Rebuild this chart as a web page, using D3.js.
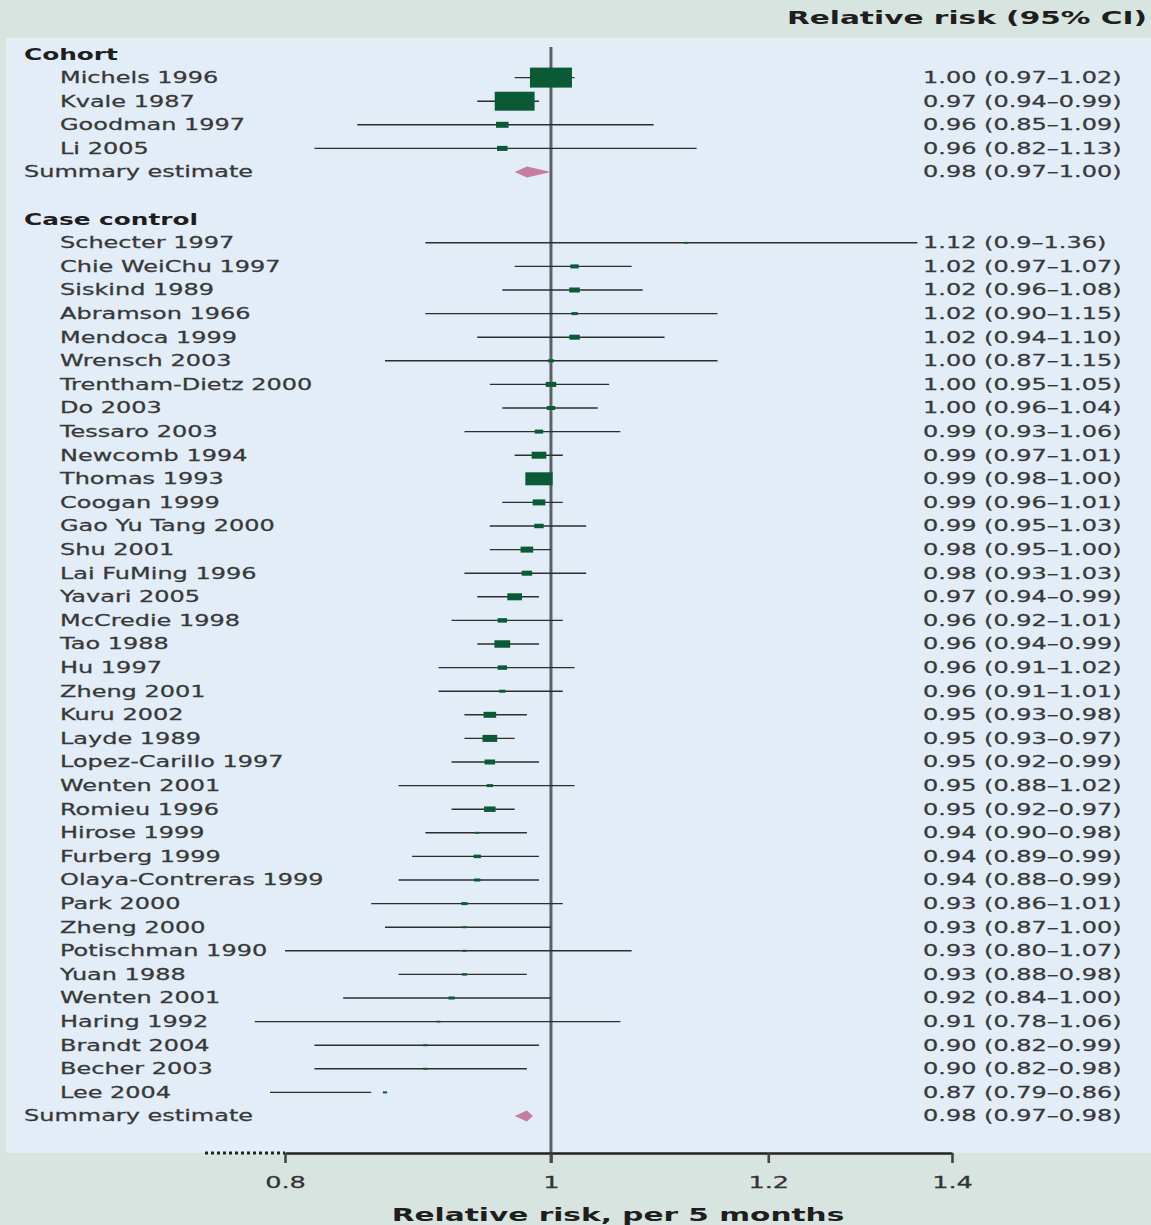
<!DOCTYPE html>
<html>
<head>
<meta charset="utf-8">
<script src="https://cdn.jsdelivr.net/npm/d3@7/dist/d3.min.js"></script>
<style>
  html, body { margin: 0; padding: 0; background: #d8e4e0; }
  svg { display: block; }
</style>
</head>
<body>
<svg id="chart" width="1151" height="1225"></svg>
<script>
// ---- Data ---------------------------------------------------------------
const groupTitles = ["Cohort", "Case control"];

const cohortNames  = ["Michels 1996", "Kvale 1987", "Goodman 1997", "Li 2005"];
const cohortRR     = ["1.00", "0.97", "0.96", "0.96"];
const cohortLo     = ["0.97", "0.94", "0.85", "0.82"];
const cohortHi     = ["1.02", "0.99", "1.09", "1.13"];
const cohortWeight = [20, 18, 1.8, 1.25];
const cohortSummary = ["0.98", "0.97", "1.00"];

const caseNames = [
  "Schecter 1997", "Chie WeiChu 1997", "Siskind 1989", "Abramson 1966", "Mendoca 1999",
  "Wrensch 2003", "Trentham-Dietz 2000", "Do 2003", "Tessaro 2003", "Newcomb 1994",
  "Thomas 1993", "Coogan 1999", "Gao Yu Tang 2000", "Shu 2001", "Lai FuMing 1996",
  "Yavari 2005", "McCredie 1998", "Tao 1988", "Hu 1997", "Zheng 2001",
  "Kuru 2002", "Layde 1989", "Lopez-Carillo 1997", "Wenten 2001", "Romieu 1996",
  "Hirose 1999", "Furberg 1999", "Olaya-Contreras 1999", "Park 2000", "Zheng 2000",
  "Potischman 1990", "Yuan 1988", "Wenten 2001", "Haring 1992", "Brandt 2004",
  "Becher 2003", "Lee 2004"
];
const caseRR = [
  "1.12", "1.02", "1.02", "1.02", "1.02",
  "1.00", "1.00", "1.00", "0.99", "0.99",
  "0.99", "0.99", "0.99", "0.98", "0.98",
  "0.97", "0.96", "0.96", "0.96", "0.96",
  "0.95", "0.95", "0.95", "0.95", "0.95",
  "0.94", "0.94", "0.94", "0.93", "0.93",
  "0.93", "0.93", "0.92", "0.91", "0.90",
  "0.90", "0.87"
];
const caseLo = [
  "0.9", "0.97", "0.96", "0.90", "0.94",
  "0.87", "0.95", "0.96", "0.93", "0.97",
  "0.98", "0.96", "0.95", "0.95", "0.93",
  "0.94", "0.92", "0.94", "0.91", "0.91",
  "0.93", "0.93", "0.92", "0.88", "0.92",
  "0.90", "0.89", "0.88", "0.86", "0.87",
  "0.80", "0.88", "0.84", "0.78", "0.82",
  "0.82", "0.79"
];
const caseHi = [
  "1.36", "1.07", "1.08", "1.15", "1.10",
  "1.15", "1.05", "1.04", "1.06", "1.01",
  "1.00", "1.01", "1.03", "1.00", "1.03",
  "0.99", "1.01", "0.99", "1.02", "1.01",
  "0.98", "0.97", "0.99", "1.02", "0.97",
  "0.98", "0.99", "0.99", "1.01", "1.00",
  "1.07", "0.98", "1.00", "1.06", "0.99",
  "0.98", "0.86"
];
const caseWeight = [
  0.05, 0.8, 1.25, 0.45, 1.25,
  0.45, 1.25, 0.8, 0.8, 2.45,
  8.45, 1.8, 1.0, 1.8, 1.25,
  2.45, 1.0, 2.8, 1.0, 0.45,
  1.8, 2.45, 1.25, 0.45, 1.5,
  0.2, 0.6, 0.45, 0.45, 0.2,
  0.2, 0.3, 0.45, 0.1, 0.2,
  0.2, 0.2
];
const caseSummary = ["0.98", "0.97", "0.98"];

const axisTicks = [0.8, 1, 1.2, 1.4];
const headerTitle = "Relative risk (95% CI)";
const axisTitle = "Relative risk, per 5 months";

// ---- Row table ------------------------------------------------------------
const rows = [];
function addGroup(title, names, rr, lo, hi, wt, summary) {
  rows.push({ kind: "header", label: title });
  names.forEach((n, i) => rows.push({
    kind: "study", label: n, rr: rr[i], lo: lo[i], hi: hi[i], weight: wt[i]
  }));
  rows.push({ kind: "summary", label: "Summary estimate",
              rr: summary[0], lo: summary[1], hi: summary[2] });
}
addGroup(groupTitles[0], cohortNames, cohortRR, cohortLo, cohortHi, cohortWeight, cohortSummary);
rows.push({ kind: "blank" });
addGroup(groupTitles[1], caseNames, caseRR, caseLo, caseHi, caseWeight, caseSummary);

// ---- Layout ------------------------------------------------------------------
const W = 1151, H = 1225;
const SX = 1.6;               // horizontal stretch of the typeface
const svg = d3.select("#chart");

const x = d3.scaleLog().domain([0.8, 1.4]).range([285, 952]);
const y = d3.scalePoint().domain(d3.range(rows.length)).range([54, 1116]);
const boxH = d3.scaleSqrt().domain([0, 20]).range([0, 20]);

// Backgrounds
svg.append("rect").attr("x", 0).attr("y", 0).attr("width", W).attr("height", H)
  .attr("fill", "#d8e4e0");
svg.append("rect").attr("x", 6).attr("y", 38).attr("width", W - 6).attr("height", 1153 - 38)
  .attr("fill", "#e2edf7");

function stretched(sel, tx, ty) {
  return sel.attr("transform", `translate(${tx},${ty}) scale(${SX},1)`);
}

// Column header
stretched(svg.append("text"), 1147, 24)
  .attr("text-anchor", "end")
  .attr("font-family", "DejaVu Sans, sans-serif")
  .attr("font-weight", "bold")
  .attr("font-size", 18.5)
  .attr("fill", "#1e1e1e")
  .text(headerTitle);

// Reference line at RR = 1
svg.append("line")
  .attr("x1", x(1)).attr("x2", x(1))
  .attr("y1", 47).attr("y2", 1163)
  .attr("stroke", "#5e6163").attr("stroke-width", 3);

// Rows
const rowG = svg.append("g").selectAll("g")
  .data(rows.map((r, i) => ({ ...r, i })))
  .join("g");

function bodyText(sel) {
  return sel
    .attr("dy", "0.36em")
    .attr("font-family", "DejaVu Sans, sans-serif")
    .attr("font-size", 15)
    .attr("fill", "#383838")
    .attr("stroke", "#383838")
    .attr("stroke-width", 0.25);
}

rowG.each(function (d) {
  const g = d3.select(this);
  const cy = y(d.i);
  if (d.kind === "blank") return;

  if (d.kind === "header") {
    stretched(g.append("text"), 24, cy)
      .attr("dy", "0.36em")
      .attr("font-family", "DejaVu Sans, sans-serif")
      .attr("font-weight", "bold")
      .attr("font-size", 15.5)
      .attr("fill", "#1e1e1e")
      .text(d.label);
    return;
  }

  bodyText(stretched(g.append("text"), d.kind === "study" ? 60 : 24, cy))
    .text(d.label);

  bodyText(stretched(g.append("text"), 923, cy))
    .text(`${d.rr} (${d.lo}\u2013${d.hi})`);

  const rr = +d.rr, lo = +d.lo, hi = +d.hi;

  if (d.kind === "study") {
    g.append("line")
      .attr("x1", x(lo)).attr("x2", x(hi))
      .attr("y1", cy).attr("y2", cy)
      .attr("stroke", "#2e2e2e").attr("stroke-width", 1.4);
    const h = Math.max(1.8, boxH(d.weight));
    const w = Math.max(3.5, h * 2.1);
    g.append("rect")
      .attr("x", x(rr) - w / 2).attr("y", cy - h / 2)
      .attr("width", w).attr("height", h)
      .attr("fill", "#0b5a36");
  } else {
    const hh = 5.5;
    const left = Math.min(x(lo), x(rr) - 6), right = Math.max(x(hi), x(rr) + 6);
    g.append("path")
      .attr("d", `M${left},${cy} L${x(rr)},${cy - hh} L${right},${cy} L${x(rr)},${cy + hh} Z`)
      .attr("fill", "#c97ba0");
  }
});

// X axis
const axisY = 1153;
svg.append("line")
  .attr("x1", 205).attr("x2", x(0.8))
  .attr("y1", axisY).attr("y2", axisY)
  .attr("stroke", "#222").attr("stroke-width", 3)
  .attr("stroke-dasharray", "3,3");

const axisG = svg.append("g")
  .attr("transform", `translate(0,${axisY})`)
  .call(d3.axisBottom(x)
    .tickValues(axisTicks)
    .tickFormat(d3.format("~g"))
    .tickSize(10)
    .tickSizeOuter(0)
    .tickPadding(14));
axisG.select(".domain").attr("stroke", "#222").attr("stroke-width", 2.6);
axisG.selectAll(".tick line").attr("stroke", "#444").attr("stroke-width", 2.6);
axisG.selectAll(".tick text")
  .attr("font-family", "DejaVu Sans, sans-serif")
  .attr("font-size", 16)
  .attr("fill", "#333")
  .attr("stroke", "#333")
  .attr("stroke-width", 0.25)
  .attr("transform", `scale(${SX},1)`);

stretched(svg.append("text"), 618, 1221)
  .attr("text-anchor", "middle")
  .attr("font-family", "DejaVu Sans, sans-serif")
  .attr("font-weight", "bold")
  .attr("font-size", 18.5)
  .attr("fill", "#1e1e1e")
  .text(axisTitle);
</script>
</body>
</html>
